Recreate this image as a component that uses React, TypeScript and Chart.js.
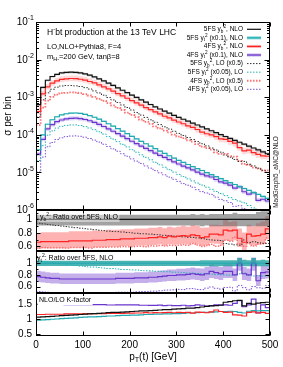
import React, { useEffect, useRef } from 'react';
import { Chart, registerables } from 'chart.js';

Chart.register(...registerables);

const FONT = '"Liberation Sans", Arial, Helvetica, sans-serif';

const binEdges = [0, 10, 20, 30, 40, 50, 60, 70, 80, 90, 100, 110, 120, 130, 140, 150, 160, 170, 180, 190, 200,
  210, 220, 230, 240, 250, 260, 270, 280, 290, 300, 310, 320, 330, 340, 350, 360, 370, 380, 390, 400,
  410, 420, 430, 440, 450, 460, 470, 480, 490, 500];

// 5FS yb^2 NLO (sigma per bin)
const b5NLO = [6.31e-4, 1.82e-3, 2.82e-3, 3.55e-3, 4.07e-3, 4.42e-3, 4.57e-3, 4.62e-3, 4.57e-3, 4.42e-3,
  4.17e-3, 3.85e-3, 3.47e-3, 3.09e-3, 2.72e-3, 2.37e-3, 2.06e-3, 1.77e-3, 1.53e-3, 1.32e-3,
  1.14e-3, 9.84e-4, 8.51e-4, 7.38e-4, 6.40e-4, 5.56e-4, 4.86e-4, 4.27e-4, 3.75e-4, 3.30e-4,
  2.92e-4, 2.59e-4, 2.30e-4, 2.04e-4, 1.82e-4, 1.62e-4, 1.44e-4, 1.28e-4, 1.14e-4, 1.01e-4,
  9.01e-5, 8.01e-5, 7.12e-5, 6.33e-5, 5.64e-5, 5.00e-5, 4.45e-5, 3.96e-5, 3.52e-5, 3.13e-5];

// 5FS yt^2 NLO (x0.1)
const t5NLO = [3.98e-5, 1.00e-4, 1.91e-4, 2.51e-4, 3.02e-4, 3.39e-4, 3.63e-4, 3.76e-4, 3.80e-4, 3.70e-4,
  3.50e-4, 3.24e-4, 2.93e-4, 2.60e-4, 2.28e-4, 1.97e-4, 1.70e-4, 1.46e-4, 1.25e-4, 1.07e-4,
  9.10e-5, 7.80e-5, 6.70e-5, 5.78e-5, 4.97e-5, 4.30e-5, 3.70e-5, 3.20e-5, 2.77e-5, 2.41e-5,
  2.09e-5, 1.84e-5, 1.62e-5, 1.43e-5, 1.26e-5, 1.125e-5, 9.87e-6, 8.77e-6, 7.71e-6, 6.86e-6,
  6.03e-6, 5.36e-6, 4.76e-6, 4.19e-6, 3.73e-6, 3.31e-6, 2.91e-6, 2.59e-6, 2.30e-6, 2.04e-6];

// ratio 4FS/5FS yb^2 NLO
const r4b = [0.66, 0.67, 0.67, 0.67, 0.67, 0.67, 0.67, 0.68, 0.68, 0.68,
  0.68, 0.68, 0.69, 0.69, 0.69, 0.70, 0.70, 0.70, 0.71, 0.71,
  0.71, 0.72, 0.72, 0.72, 0.73, 0.73, 0.74, 0.73, 0.75, 0.74,
  0.75, 0.76, 0.75, 0.77, 0.76, 0.73, 0.74, 0.78, 0.78, 0.77,
  0.84, 0.83, 0.84, 0.72, 0.66, 0.78, 0.75, 0.76, 0.78, 0.86];
// ratio 5FS yb^2 LO / 5FS NLO
const lo5b = [0.943, 0.935, 0.926, 0.917, 0.909, 0.901, 0.893, 0.885, 0.877, 0.870,
  0.862, 0.855, 0.847, 0.840, 0.833, 0.826, 0.820, 0.818, 0.813, 0.806,
  0.800, 0.794, 0.787, 0.785, 0.781, 0.775, 0.769, 0.763, 0.760, 0.752,
  0.746, 0.741, 0.735, 0.733, 0.725, 0.714, 0.704, 0.694, 0.690, 0.685,
  0.641, 0.633, 0.621, 0.617, 0.694, 0.658, 0.667, 0.654, 0.645, 0.641];
// ratio 4FS yb^2 LO / 5FS NLO
const lo4b = [0.574, 0.583, 0.578, 0.578, 0.578, 0.578, 0.573, 0.581, 0.581, 0.581,
  0.581, 0.576, 0.585, 0.585, 0.585, 0.588, 0.588, 0.588, 0.597, 0.592,
  0.592, 0.600, 0.600, 0.595, 0.608, 0.603, 0.612, 0.603, 0.615, 0.612,
  0.615, 0.628, 0.615, 0.642, 0.618, 0.598, 0.612, 0.629, 0.600, 0.616,
  0.689, 0.675, 0.737, 0.637, 0.600, 0.639, 0.605, 0.633, 0.639, 0.723];

// ratio 4FS/5FS yt^2 NLO
const r4t = [0.77, 0.76, 0.75, 0.74, 0.74, 0.73, 0.73, 0.73, 0.73, 0.73,
  0.73, 0.73, 0.73, 0.73, 0.73, 0.73, 0.73, 0.74, 0.74, 0.74,
  0.74, 0.75, 0.75, 0.75, 0.76, 0.76, 0.77, 0.78, 0.79, 0.79,
  0.80, 0.80, 0.81, 0.82, 0.81, 0.80, 0.82, 0.86, 0.84, 0.82,
  0.86, 0.86, 0.80, 1.00, 0.82, 0.80, 1.00, 0.70, 0.84, 0.85];
// ratio 5FS yt^2 LO / 5FS NLO
const lo5t = [1.042, 1.031, 1.020, 1.010, 1.000, 0.990, 0.980, 0.971, 0.962, 0.952,
  0.943, 0.935, 0.935, 0.926, 0.917, 0.909, 0.909, 0.901, 0.893, 0.893,
  0.885, 0.885, 0.877, 0.870, 0.870, 0.862, 0.862, 0.855, 0.855, 0.847,
  0.847, 0.840, 0.833, 0.833, 0.826, 0.820, 0.820, 0.813, 0.806, 0.800,
  0.800, 0.794, 0.800, 0.820, 0.833, 0.794, 0.781, 0.787, 0.781, 0.781];
// ratio 4FS yt^2 LO / 5FS NLO
const lo4t = [0.513, 0.510, 0.503, 0.497, 0.497, 0.490, 0.493, 0.493, 0.493, 0.493,
  0.493, 0.493, 0.493, 0.493, 0.493, 0.497, 0.497, 0.503, 0.503, 0.503,
  0.503, 0.510, 0.514, 0.514, 0.521, 0.521, 0.527, 0.538, 0.541, 0.545,
  0.552, 0.548, 0.563, 0.566, 0.551, 0.548, 0.573, 0.593, 0.571, 0.558,
  0.585, 0.589, 0.526, 0.620, 0.582, 0.544, 0.600, 0.580, 0.571, 0.616];

// relative uncertainty bands (up / down)
const upB5 = [0.07, 0.07, 0.07, 0.07, 0.07, 0.07, 0.07, 0.07, 0.07, 0.07,
  0.07, 0.07, 0.07, 0.07, 0.07, 0.07, 0.07, 0.07, 0.07, 0.07,
  0.07, 0.07, 0.07, 0.07, 0.07, 0.07, 0.07, 0.07, 0.07, 0.07,
  0.07, 0.07, 0.07, 0.08, 0.07, 0.08, 0.07, 0.08, 0.08, 0.08,
  0.08, 0.08, 0.10, 0.08, 0.08, 0.08, 0.08, 0.11, 0.12, 0.12];
const dnB5 = [0.09, 0.09, 0.09, 0.09, 0.09, 0.09, 0.09, 0.09, 0.09, 0.09,
  0.09, 0.09, 0.09, 0.09, 0.09, 0.09, 0.09, 0.09, 0.09, 0.09,
  0.09, 0.09, 0.09, 0.09, 0.09, 0.09, 0.09, 0.09, 0.09, 0.09,
  0.09, 0.09, 0.09, 0.09, 0.09, 0.10, 0.09, 0.10, 0.10, 0.10,
  0.10, 0.10, 0.10, 0.10, 0.10, 0.10, 0.10, 0.10, 0.10, 0.10];
const upB4 = [0.21, 0.21, 0.21, 0.21, 0.21, 0.21, 0.21, 0.21, 0.21, 0.21,
  0.21, 0.21, 0.21, 0.21, 0.21, 0.21, 0.21, 0.21, 0.20, 0.20,
  0.20, 0.20, 0.20, 0.20, 0.20, 0.20, 0.20, 0.19, 0.19, 0.19,
  0.19, 0.19, 0.19, 0.19, 0.19, 0.20, 0.19, 0.18, 0.18, 0.19,
  0.18, 0.16, 0.16, 0.20, 0.22, 0.18, 0.20, 0.24, 0.24, 0.22];
const dnB4 = [0.15, 0.15, 0.15, 0.15, 0.15, 0.15, 0.15, 0.15, 0.15, 0.15,
  0.15, 0.15, 0.15, 0.15, 0.15, 0.15, 0.15, 0.15, 0.15, 0.15,
  0.15, 0.15, 0.15, 0.15, 0.15, 0.15, 0.15, 0.16, 0.16, 0.16,
  0.16, 0.16, 0.16, 0.16, 0.17, 0.17, 0.17, 0.17, 0.18, 0.18,
  0.18, 0.18, 0.18, 0.18, 0.18, 0.18, 0.18, 0.18, 0.18, 0.18];
const upT5 = [0.045, 0.045, 0.045, 0.045, 0.045, 0.045, 0.045, 0.045, 0.045, 0.045,
  0.045, 0.045, 0.045, 0.045, 0.045, 0.045, 0.045, 0.045, 0.045, 0.045,
  0.045, 0.045, 0.045, 0.045, 0.045, 0.045, 0.045, 0.045, 0.045, 0.045,
  0.045, 0.045, 0.045, 0.045, 0.045, 0.05, 0.05, 0.05, 0.05, 0.05,
  0.05, 0.05, 0.05, 0.09, 0.06, 0.05, 0.09, 0.05, 0.06, 0.05];
const dnT5 = [0.045, 0.045, 0.045, 0.045, 0.045, 0.045, 0.045, 0.045, 0.045, 0.045,
  0.045, 0.045, 0.045, 0.045, 0.045, 0.045, 0.045, 0.045, 0.045, 0.045,
  0.045, 0.045, 0.045, 0.045, 0.045, 0.045, 0.045, 0.045, 0.045, 0.045,
  0.045, 0.045, 0.045, 0.045, 0.045, 0.05, 0.05, 0.05, 0.05, 0.05,
  0.05, 0.05, 0.05, 0.05, 0.05, 0.05, 0.05, 0.05, 0.05, 0.05];
const upT4 = [0.13, 0.13, 0.13, 0.13, 0.13, 0.13, 0.13, 0.13, 0.13, 0.13,
  0.13, 0.13, 0.13, 0.13, 0.13, 0.13, 0.13, 0.13, 0.13, 0.13,
  0.13, 0.13, 0.13, 0.13, 0.13, 0.13, 0.13, 0.13, 0.13, 0.13,
  0.13, 0.13, 0.13, 0.13, 0.13, 0.14, 0.14, 0.14, 0.14, 0.14,
  0.14, 0.14, 0.14, 0.10, 0.14, 0.14, 0.10, 0.14, 0.14, 0.14];
const dnT4 = [0.12, 0.12, 0.12, 0.12, 0.12, 0.12, 0.12, 0.12, 0.12, 0.12,
  0.12, 0.12, 0.12, 0.12, 0.12, 0.12, 0.12, 0.12, 0.12, 0.12,
  0.12, 0.12, 0.12, 0.12, 0.12, 0.12, 0.12, 0.12, 0.12, 0.12,
  0.12, 0.12, 0.12, 0.12, 0.12, 0.13, 0.13, 0.13, 0.13, 0.13,
  0.13, 0.13, 0.13, 0.13, 0.13, 0.13, 0.13, 0.13, 0.13, 0.13];

const xTickValues = [0, 100, 200, 300, 400, 500];
const logExponents = [-6, -5, -4, -3, -2, -1];
const ratio1Ticks = [0.6, 0.8, 1];
const ratio2Ticks = [0.6, 0.8, 1];
const kTicks = [0.5, 1, 1.5];

const C = {
  black: '#111111',
  grayBand: 'rgba(105,105,105,0.62)',
  grayBandMain: 'rgba(140,140,140,0.28)',
  red: '#ff2424',
  redBand: 'rgba(255,85,85,0.45)',
  redBandMain: 'rgba(255,140,140,0.32)',
  cyan: '#22a9b0',
  cyanBand: 'rgba(30,160,160,0.8)',
  cyanBandMain: 'rgba(100,210,210,0.4)',
  purple: '#6a35cc',
  purpleBand: 'rgba(140,95,215,0.5)',
  purpleBandMain: 'rgba(170,140,230,0.35)',
  bDot: '#333333',
  cDot: '#1fb3b3',
  rDot: '#ff7070',
  pDot: '#7a4fd6',
};

type Seg = { t: string; k?: 'sub' | 'sup' };

const legendRows: { segs: Seg[]; color: string; width: number; dash: number[]; halo?: string }[] = [
  { segs: [{ t: '5FS y' }, { t: 'b', k: 'sub' }, { t: '2', k: 'sup' }, { t: ', NLO' }], color: C.black, width: 1.2, dash: [] },
  { segs: [{ t: '5FS y' }, { t: 't', k: 'sub' }, { t: '2', k: 'sup' }, { t: ' (x0.1), NLO' }], color: C.cyan, width: 1.2, dash: [], halo: 'rgba(90,205,205,0.8)' },
  { segs: [{ t: '4FS y' }, { t: 'b', k: 'sub' }, { t: '2', k: 'sup' }, { t: ', NLO' }], color: C.red, width: 1.2, dash: [], halo: 'rgba(255,130,130,0.6)' },
  { segs: [{ t: '4FS y' }, { t: 't', k: 'sub' }, { t: '2', k: 'sup' }, { t: ' (x0.1), NLO' }], color: C.purple, width: 1.2, dash: [], halo: 'rgba(160,125,225,0.6)' },
  { segs: [{ t: '5FS y' }, { t: 'b', k: 'sub' }, { t: '2', k: 'sup' }, { t: ', LO (x0.5)' }], color: C.bDot, width: 1, dash: [1.5, 1.5] },
  { segs: [{ t: '5FS y' }, { t: 't', k: 'sub' }, { t: '2', k: 'sup' }, { t: ' (x0.05), LO' }], color: C.cDot, width: 1, dash: [1.5, 1.5] },
  { segs: [{ t: '4FS y' }, { t: 'b', k: 'sub' }, { t: '2', k: 'sup' }, { t: ', LO (x0.5)' }], color: C.rDot, width: 2, dash: [1.5, 1.5] },
  { segs: [{ t: '4FS y' }, { t: 't', k: 'sub' }, { t: '2', k: 'sup' }, { t: ' (x0.05), LO' }], color: C.pDot, width: 1, dash: [1.5, 1.5] },
];

const step = (v: number[]) => binEdges.map((x, i) => ({ x, y: v[Math.min(i, v.length - 1)] }));
const mul = (a: number[], b: number[], k = 1) => a.map((v, i) => v * b[i] * k);
const scaleBy = (a: number[], f: number[], sign: number) => a.map((v, i) => v * (1 + sign * f[i]));

function drawRich(ctx: CanvasRenderingContext2D, segs: Seg[], x: number, y: number, size: number, align: 'left' | 'right' | 'center', color: string) {
  const fontFor = (k?: string) => `${k ? size * 0.72 : size}px ${FONT}`;
  let w = 0;
  segs.forEach((s) => { ctx.font = fontFor(s.k); w += ctx.measureText(s.t).width; });
  let cx = align === 'right' ? x - w : align === 'center' ? x - w / 2 : x;
  ctx.textBaseline = 'middle';
  ctx.textAlign = 'left';
  ctx.fillStyle = color;
  segs.forEach((s) => {
    ctx.font = fontFor(s.k);
    const dy = s.k === 'sub' ? size * 0.3 : s.k === 'sup' ? -size * 0.38 : 0;
    ctx.fillText(s.t, cx, y + dy);
    cx += ctx.measureText(s.t).width;
  });
  return w;
}

const decorPlugin = {
  id: 'decor',
  afterDraw(chart: any) {
    const ctx: CanvasRenderingContext2D = chart.ctx;
    const ca = chart.chartArea;
    const xs = chart.scales.x;
    const yMain = chart.scales.yMain;
    const yR1 = chart.scales.yR1;
    const yR2 = chart.scales.yR2;
    const yK = chart.scales.yK;
    const L = Math.round(ca.left) + 0.5;
    const R = Math.round(ca.right) - 0.5;
    ctx.save();
    ctx.strokeStyle = '#000';
    ctx.lineWidth = 1;
    ctx.setLineDash([]);
    const panels = [yMain, yR1, yR2, yK];
    panels.forEach((s: any) => {
      const T = Math.round(s.top) + 0.5;
      const B = Math.round(s.bottom) - 0.5;
      ctx.beginPath();
      xTickValues.forEach((v) => {
        const px = Math.round(xs.getPixelForValue(v)) + 0.5;
        ctx.moveTo(px, B); ctx.lineTo(px, B - 4);
        ctx.moveTo(px, T); ctx.lineTo(px, T + 4);
      });
      ctx.stroke();
    });
    const yTick = (s: any, v: number, len: number) => {
      const py = Math.round(s.getPixelForValue(v)) + 0.5;
      ctx.moveTo(L, py); ctx.lineTo(L + len, py);
      ctx.moveTo(R, py); ctx.lineTo(R - len, py);
    };
    ctx.beginPath();
    logExponents.forEach((e) => {
      yTick(yMain, Math.pow(10, e), 5);
      if (e < -1) for (let m = 2; m <= 9; m++) yTick(yMain, m * Math.pow(10, e), 2.5);
    });
    [0.6, 0.8, 1].forEach((v) => yTick(yR1, v, 4));
    [0.7, 0.9, 1.1].forEach((v) => yTick(yR1, v, 2));
    [0.6, 0.8, 1].forEach((v) => yTick(yR2, v, 4));
    [0.5, 0.7, 0.9, 1.1].forEach((v) => yTick(yR2, v, 2));
    [0.5, 1, 1.5].forEach((v) => yTick(yK, v, 4));
    ctx.stroke();
    panels.forEach((s: any) => {
      const T = Math.round(s.top) + 0.5;
      const B = Math.round(s.bottom) - 0.5;
      ctx.strokeRect(L, T, R - L, B - T);
    });
    logExponents.forEach((e) => {
      const py = yMain.getPixelForValue(Math.pow(10, e));
      ctx.font = `7px ${FONT}`;
      const sw = ctx.measureText(String(e)).width;
      ctx.fillStyle = '#000';
      ctx.textBaseline = 'middle';
      ctx.textAlign = 'right';
      ctx.fillText(String(e), 34, py - 3.5);
      ctx.font = `10px ${FONT}`;
      ctx.fillText('10', 34 - sw, py + 0.5);
    });
    ctx.save();
    ctx.translate(8, (yMain.top + yMain.bottom) / 2);
    ctx.rotate(-Math.PI / 2);
    ctx.font = `10px ${FONT}`;
    ctx.textAlign = 'center';
    ctx.textBaseline = 'middle';
    ctx.fillStyle = '#000';
    ctx.fillText('σ per bin', 0, 0);
    ctx.restore();
    drawRich(ctx, [{ t: 'p' }, { t: 'T', k: 'sub' }, { t: '(t) [GeV]' }], (ca.left + ca.right) / 2, 357, 10, 'center', '#000');
    ctx.save();
    ctx.translate(276, 172);
    ctx.rotate(-Math.PI / 2);
    ctx.font = `6.5px ${FONT}`;
    ctx.textAlign = 'center';
    ctx.textBaseline = 'middle';
    ctx.fillStyle = '#222';
    ctx.fillText('MadGraph5_aMC@NLO', 0, 0);
    ctx.restore();
    drawRich(ctx, [{ t: 'H' }, { t: '-', k: 'sup' }, { t: 'bt production at the 13 TeV LHC' }], 47, 33, 8.5, 'left', '#000');
    drawRich(ctx, [{ t: 'LO,NLO+Pythia8, F=4' }], 47, 47, 7.5, 'left', '#000');
    drawRich(ctx, [{ t: 'm' }, { t: 'H-', k: 'sub' }, { t: '=200 GeV, tanβ=8' }], 47, 57, 7.5, 'left', '#000');
    legendRows.forEach((row, i) => {
      const y = 29.3 + i * 8.57;
      drawRich(ctx, row.segs, 243, y, 6.5, 'right', '#000');
      if (row.halo) {
        ctx.strokeStyle = row.halo;
        ctx.lineWidth = 3;
        ctx.setLineDash([]);
        ctx.beginPath(); ctx.moveTo(247, y); ctx.lineTo(261, y); ctx.stroke();
      }
      ctx.strokeStyle = row.color;
      ctx.lineWidth = row.width;
      ctx.setLineDash(row.dash);
      ctx.beginPath(); ctx.moveTo(247, y); ctx.lineTo(261, y); ctx.stroke();
    });
    ctx.setLineDash([]);
    const label = (segs: Seg[], x: number, y: number, bg: string) => {
      let w = 0;
      segs.forEach((s) => { ctx.font = `${s.k ? 7 * 0.72 : 7}px ${FONT}`; w += ctx.measureText(s.t).width; });
      ctx.fillStyle = bg;
      ctx.fillRect(x - 1.5, y - 4.5, w + 3, 9);
      drawRich(ctx, segs, x, y, 7, 'left', '#000');
    };
    label([{ t: 'y' }, { t: 'b', k: 'sub' }, { t: '2', k: 'sup' }, { t: ': Ratio over 5FS, NLO' }], 40, yR1.top + 7.5, 'rgba(255,255,255,0.45)');
    label([{ t: 'y' }, { t: 't', k: 'sub' }, { t: '2', k: 'sup' }, { t: ': Ratio over 5FS, NLO' }], 37, yR2.top + 7.5, 'rgba(255,255,255,0.0)');
    label([{ t: 'NLO/LO K-factor' }], 39, yK.top + 7.5, 'rgba(255,255,255,1)');
    ctx.restore();
  },
};

export default function App() {
  const ref = useRef<HTMLCanvasElement | null>(null);

  useEffect(() => {
    if (!ref.current) return;
    const ones = b5NLO.map(() => 1);
    const B4 = mul(b5NLO, r4b);
    const B5LO = mul(b5NLO, lo5b, 0.5);
    const B4LO = mul(b5NLO, lo4b, 0.5);
    const T4 = mul(t5NLO, r4t);
    const T5LO = mul(t5NLO, lo5t, 0.5);
    const T4LO = mul(t5NLO, lo4t, 0.5);
    const Kb5 = lo5b.map((v) => 1 / v);
    const Kb4 = r4b.map((v, i) => v / lo4b[i]);
    const Kt5 = lo5t.map((v) => 1 / v);
    const Kt4 = r4t.map((v, i) => v / lo4t[i]);

    const ds: any[] = [];
    const line = (data: number[], axis: string, color: string, width: number, dash: number[] = [], order = 0) => {
      ds.push({
        data: step(data), yAxisID: axis, borderColor: color, borderWidth: width, borderDash: dash,
        pointRadius: 0, stepped: 'before', fill: false, order, clip: 0, borderCapStyle: 'butt',
      });
    };
    const band = (center: number[], up: number[], dn: number[], axis: string, color: string) => {
      ds.push({ data: step(scaleBy(center, dn, -1)), yAxisID: axis, borderWidth: 0, borderColor: 'rgba(0,0,0,0)', pointRadius: 0, stepped: 'before', fill: false, order: 10, clip: 0 });
      ds.push({ data: step(scaleBy(center, up, 1)), yAxisID: axis, borderWidth: 0, borderColor: 'rgba(0,0,0,0)', pointRadius: 0, stepped: 'before', fill: '-1', backgroundColor: color, order: 10, clip: 0 });
    };

    band(b5NLO, upB5, dnB5, 'yMain', C.grayBandMain);
    band(B4, upB4, dnB4, 'yMain', C.redBandMain);
    band(t5NLO, upT5, dnT5, 'yMain', C.cyanBandMain);
    band(T4, upT4, dnT4, 'yMain', C.purpleBandMain);
    line(b5NLO, 'yMain', C.black, 1.2);
    line(t5NLO, 'yMain', C.cyan, 1.2);
    line(B4, 'yMain', C.red, 1.2);
    line(T4, 'yMain', C.purple, 1.2);
    line(B5LO, 'yMain', C.bDot, 1, [1.5, 1.5], 2);
    line(T5LO, 'yMain', C.cDot, 1, [1.5, 1.5], 2);
    line(B4LO, 'yMain', C.rDot, 1.8, [1.5, 1.5], 2);
    line(T4LO, 'yMain', C.pDot, 1, [1.5, 1.5], 2);

    band(ones, upB5, dnB5, 'yR1', C.grayBand);
    band(r4b, upB4, dnB4, 'yR1', C.redBand);
    line(ones, 'yR1', C.black, 1.2);
    line(r4b, 'yR1', C.red, 1.2);
    line(lo5b, 'yR1', C.bDot, 1, [1.5, 1.5], 2);
    line(lo4b, 'yR1', C.rDot, 1.5, [1.5, 1.5], 2);

    band(ones, upT5, dnT5, 'yR2', C.cyanBand);
    band(r4t, upT4, dnT4, 'yR2', C.purpleBand);
    line(ones, 'yR2', C.cyan, 1.2);
    line(r4t, 'yR2', C.purple, 1.2);
    line(lo5t, 'yR2', C.cDot, 1, [1.5, 1.5], 2);
    line(lo4t, 'yR2', C.pDot, 1, [1.5, 1.5], 2);

    line(Kb5, 'yK', C.black, 1.2);
    line(Kb4, 'yK', C.red, 1.2);
    line(Kt5, 'yK', C.cyan, 1.2);
    line(Kt4, 'yK', C.purple, 1.2);

    const tickFont = { family: FONT, size: 10 };
    const yCommon = (min: number, max: number, weight: number, stackWeight: number, ticks: number[] | null) => ({
      type: 'linear',
      min, max, position: 'left', stack: 'v', stackWeight, weight,
      grid: { display: false, drawTicks: false },
      border: { display: false },
      ticks: ticks
        ? { font: tickFont, color: '#000', padding: 4, autoSkip: false, callback: (v: any) => String(v) }
        : { display: false },
      afterBuildTicks: ticks ? (s: any) => { s.ticks = ticks.map((v) => ({ value: v })); } : undefined,
      afterFit: (s: any) => { s.width = 36; },
    });

    const chart = new Chart(ref.current, {
      type: 'line',
      data: { datasets: ds },
      options: {
        animation: false,
        responsive: false,
        devicePixelRatio: 1,
        layout: { padding: { top: 22, right: 13, left: 0, bottom: 0 } },
        plugins: { legend: { display: false }, tooltip: { enabled: false } },
        elements: { line: { tension: 0 } },
        scales: {
          x: {
            type: 'linear', min: 0, max: 500, position: 'bottom',
            grid: { display: false, drawTicks: false },
            border: { display: false },
            ticks: { font: tickFont, color: '#000', padding: 3, maxRotation: 0, autoSkip: false, stepSize: 100 },
            afterBuildTicks: (s: any) => { s.ticks = xTickValues.map((v) => ({ value: v })); },
            afterFit: (s: any) => { s.height = 31; },
          },
          yMain: { ...yCommon(1e-6, 1e-1, 4, 188, null), type: 'logarithmic' },
          yR1: yCommon(0.53, 1.14, 3, 41, ratio1Ticks),
          yR2: yCommon(0.49, 1.21, 2, 42, ratio2Ticks),
          yK: yCommon(0.43, 1.87, 1, 43, kTicks),
        } as any,
      },
      plugins: [decorPlugin],
    } as any);
    return () => chart.destroy();
  }, []);

  return (
    <div style={{ position: 'absolute', left: 0, top: 0, width: 283, height: 367, background: '#fff' }}>
      <canvas ref={ref} width={283} height={367} style={{ display: 'block', width: 283, height: 367 }} />
    </div>
  );
}
